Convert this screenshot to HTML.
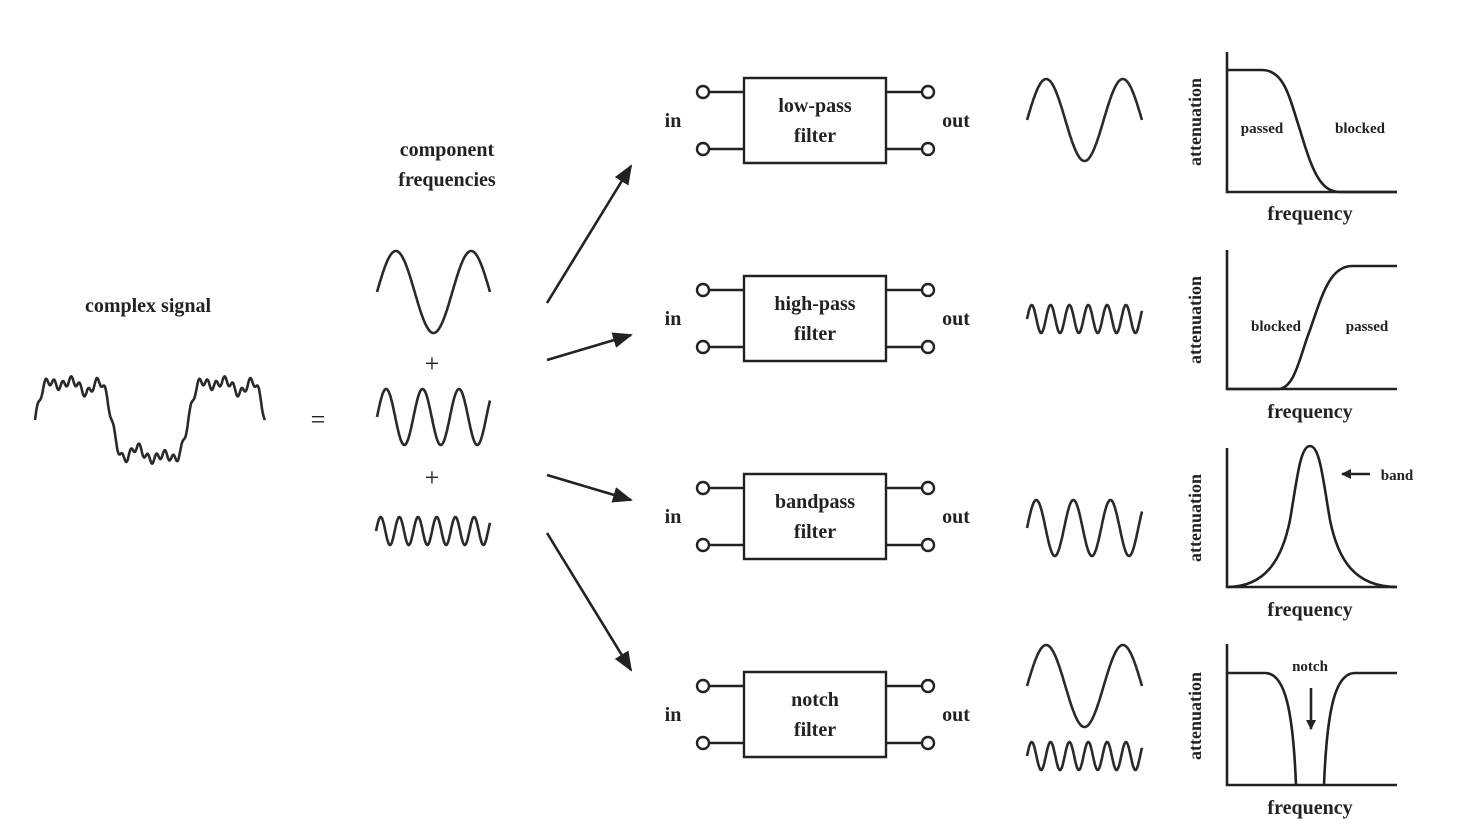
<!DOCTYPE html>
<html><head><meta charset="utf-8"><style>
html,body{margin:0;padding:0;background:#fff;}
svg{display:block}
text{font-family:"Liberation Serif",serif;fill:#222;}
</style></head><body>
<svg id="s" width="1458" height="840" viewBox="0 0 1458 840" xmlns="http://www.w3.org/2000/svg">
<defs><marker id="ah" markerWidth="10" markerHeight="10" refX="9" refY="5" orient="auto" markerUnits="userSpaceOnUse"><path d="M0,0 L10,5 L0,10 Z" fill="#222"/></marker>
<marker id="ah2" markerWidth="20" markerHeight="16" refX="18" refY="8" orient="auto" markerUnits="userSpaceOnUse"><path d="M0,0 L20,8 L0,16 Z" fill="#222"/></marker></defs>
<g id="waves" fill="none" stroke="#2a2a2a" stroke-width="2.6"></g>
<text x="148" y="312" font-size="20" text-anchor="middle" font-weight="bold" fill="#333">complex signal</text>
<text x="318" y="428" font-size="26" text-anchor="middle">=</text>
<text x="447" y="156" font-size="20" text-anchor="middle" font-weight="bold" fill="#333">component</text>
<text x="447" y="186" font-size="20" text-anchor="middle" font-weight="bold" fill="#333">frequencies</text>
<text x="432" y="372" font-size="26" text-anchor="middle">+</text>
<text x="432" y="486" font-size="26" text-anchor="middle">+</text>
<g stroke="#222" stroke-width="2.6" fill="none">
<line x1="547" y1="303" x2="631" y2="166" marker-end="url(#ah2)"/>
<line x1="547" y1="360" x2="631" y2="335" marker-end="url(#ah2)"/>
<line x1="547" y1="475" x2="631" y2="500" marker-end="url(#ah2)"/>
<line x1="547" y1="533" x2="631" y2="670" marker-end="url(#ah2)"/>
</g>
<g id="rows"></g>
<g font-size="20" text-anchor="middle" font-weight="bold" fill="#333">
<text x="815" y="112">low-pass</text><text x="815" y="142">filter</text>
<text x="815" y="310">high-pass</text><text x="815" y="340">filter</text>
<text x="815" y="508">bandpass</text><text x="815" y="538">filter</text>
<text x="815" y="706">notch</text><text x="815" y="736">filter</text>
</g>
<g font-size="20" text-anchor="middle" fill="#333" font-weight="bold">
<text x="673" y="127">in</text><text x="956" y="127">out</text>
<text x="673" y="325">in</text><text x="956" y="325">out</text>
<text x="673" y="523">in</text><text x="956" y="523">out</text>
<text x="673" y="721">in</text><text x="956" y="721">out</text>
<text x="1310" y="220">frequency</text>
<text x="1310" y="418">frequency</text>
<text x="1310" y="616">frequency</text>
<text x="1310" y="814">frequency</text>
</g>
<g font-size="18" text-anchor="middle" fill="#333" font-weight="bold">
<text transform="translate(1201,122) rotate(-90)">attenuation</text>
<text transform="translate(1201,320) rotate(-90)">attenuation</text>
<text transform="translate(1201,518) rotate(-90)">attenuation</text>
<text transform="translate(1201,716) rotate(-90)">attenuation</text>
</g>
<g font-size="15" text-anchor="middle" fill="#333" font-weight="bold">
<text x="1262" y="133">passed</text><text x="1360" y="133">blocked</text>
<text x="1276" y="331">blocked</text><text x="1367" y="331">passed</text>
<text x="1397" y="480">band</text>
<text x="1310" y="671">notch</text>
</g>
<g stroke="#222" stroke-width="2.6" fill="none">
<path d="M1227,52 V192 H1397"/><path d="M1227,250 V389 H1397"/>
<path d="M1227,448 V587 H1397"/><path d="M1227,644 V785 H1397"/>
<path d="M1227,70 H1262 C1285,70 1290,100 1300,130 C1312,170 1320,192 1340,192 H1397"/>
<path d="M1227,389 H1278 C1295,389 1300,355 1310,330 C1322,295 1330,266 1352,266 H1397"/>
<path d="M1227,587 C1265,587 1282,560 1290,520 C1297,480 1300,446 1310,446 C1320,446 1323,480 1330,520 C1338,560 1355,587 1397,587"/>
<path d="M1227,673 H1265 C1285,673 1293,710 1296,785"/>
<path d="M1324,785 C1327,710 1335,673 1355,673 H1397"/>
<line x1="1370" y1="474" x2="1342" y2="474" marker-end="url(#ah)"/>
<line x1="1311" y1="688" x2="1311" y2="729" marker-end="url(#ah)"/>
</g>
</svg>
<script>
(function(){
var ns="http://www.w3.org/2000/svg";
var W=document.getElementById("waves"),R=document.getElementById("rows");
function P(g,d,attrs){var p=document.createElementNS(ns,"path");p.setAttribute("d",d);if(attrs)for(var k in attrs)p.setAttribute(k,attrs[k]);g.appendChild(p);}
function sine(x0,x1,cy,amp,t0,t1){var d="",n=200;for(var i=0;i<=n;i++){var x=x0+(x1-x0)*i/n,t=t0+(t1-t0)*i/n;d+=(i?"L":"M")+x.toFixed(1)+","+(cy-amp*Math.sin(t)).toFixed(1);}return d;}
var d="",n=800,x0=35,x1=265;
for(var i=0;i<=n;i++){var t=3*Math.PI*i/n,x=x0+(x1-x0)*i/n;
var s=Math.sin(t)+Math.sin(3*t)/3+Math.sin(5*t)/5;
var y=420-s*38-9*Math.sin(t)*Math.abs(Math.sin(1.5*t))-4*Math.sin(18*t);
d+=(i?"L":"M")+x.toFixed(1)+","+y.toFixed(1);}
P(W,d);
var P3=Math.PI;
P(W,sine(377,490,292,41,0,3*P3));
P(W,sine(377,490,417,28,0,6.2*P3));
P(W,sine(376,490,531,14,0,12.2*P3));
P(W,sine(1027,1142,120,41,0,3*P3));
P(W,sine(1027,1142,319,14,0,12.2*P3));
P(W,sine(1027,1142,528,28,0,6.2*P3));
P(W,sine(1027,1142,686,41,0,3*P3));
P(W,sine(1027,1142,756,14,0,12.2*P3));
var ys=[0,198,396,594];
ys.forEach(function(o){
var g=document.createElementNS(ns,"g");g.setAttribute("stroke","#222");g.setAttribute("stroke-width","2.4");g.setAttribute("fill","none");
P(g,"M744,"+(78+o)+"H886V"+(163+o)+"H744Z");
P(g,"M709,"+(92+o)+"H744M709,"+(149+o)+"H744M886,"+(92+o)+"H922M886,"+(149+o)+"H922");
[[703,92],[703,149],[928,92],[928,149]].forEach(function(c){var e=document.createElementNS(ns,"circle");e.setAttribute("cx",c[0]);e.setAttribute("cy",c[1]+o);e.setAttribute("r",6);e.setAttribute("fill","#fff");g.appendChild(e);});
R.appendChild(g);});
})();
</script>
</body></html>
